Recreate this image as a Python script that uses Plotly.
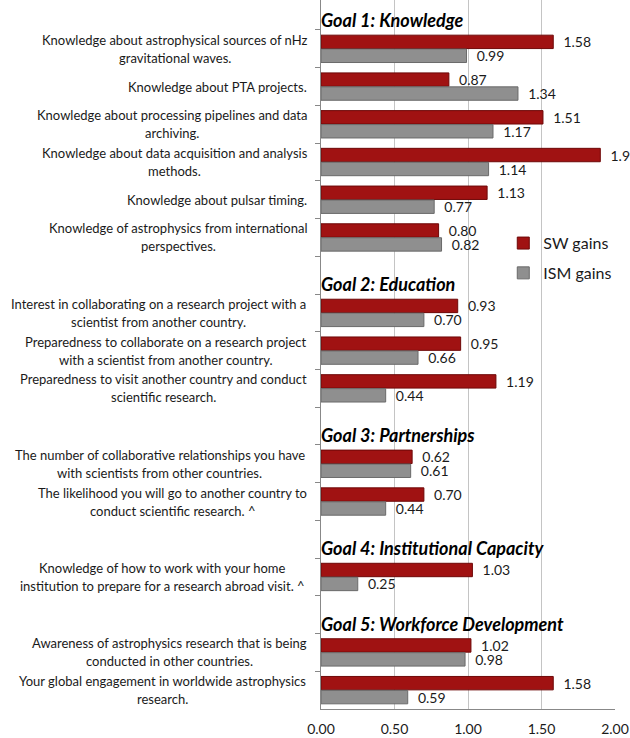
import plotly.graph_objects as go

# ---------------- data ----------------
goals = [
    "Goal 1: Knowledge",
    "Goal 2: Education",
    "Goal 3: Partnerships",
    "Goal 4: Institutional Capacity",
    "Goal 5: Workforce Development",
]
items = [
    "Knowledge about astrophysical sources of nHz\ngravitational waves.",
    "Knowledge about PTA projects.",
    "Knowledge about processing pipelines and data\narchiving.",
    "Knowledge about data acquisition and analysis\nmethods.",
    "Knowledge about pulsar timing.",
    "Knowledge of astrophysics from international\nperspectives.",
    "Interest in collaborating on a research project with a\nscientist from another country.",
    "Preparedness to collaborate on a research project\nwith a scientist from another country.",
    "Preparedness to visit another country and conduct\nscientific research.",
    "The number of collaborative relationships you have\nwith scientists from other countries.",
    "The likelihood you will go to another country to\nconduct scientific research. ^",
    "Knowledge of how to work with your home\ninstitution to prepare for a research abroad visit. ^",
    "Awareness of astrophysics research that is being\nconducted in other countries.",
    "Your global engagement in worldwide astrophysics\nresearch.",
]
item_goal = [0, 0, 0, 0, 0, 0, 1, 1, 1, 2, 2, 3, 4, 4]
sw_labels = ["1.58", "0.87", "1.51", "1.9", "1.13", "0.80", "0.93", "0.95", "1.19",
             "0.62", "0.70", "1.03", "1.02", "1.58"]
ism_labels = ["0.99", "1.34", "1.17", "1.14", "0.77", "0.82", "0.70", "0.66", "0.44",
              "0.61", "0.44", "0.25", "0.98", "0.59"]
series_names = ["SW gains", "ISM gains"]
x_ticks = [0, 0.5, 1.0, 1.5, 2.0]

# ---------------- layout helpers ----------------
# pixel centre of each (multi-line) label block, measured from the reference
label_centers = [175, None, 171.5, 174.5, None, 178, 158.5, 165.5, 163, 159.5,
                 172.5, 162, 169.5, 162.5]

W, H = 630, 738
ML, MR, MT, MB = 321, 15, 0, 29
FONT = "Lato"

# build category list (header slots + items)
cats, sw_vals, ism_vals, sw_txt, ism_txt = [], [], [], [], []
header_cats = []
item_cats = []
for g, gname in enumerate(goals):
    cats.append(gname)
    header_cats.append(gname)
    sw_vals.append(None); ism_vals.append(None)
    sw_txt.append(""); ism_txt.append("")
    for i, lab in enumerate(items):
        if item_goal[i] == g:
            c = lab.replace("\n", " ")
            cats.append(c)
            item_cats.append((i, c))
            sw_vals.append(float(sw_labels[i])); ism_vals.append(float(ism_labels[i]))
            sw_txt.append(sw_labels[i]); ism_txt.append(ism_labels[i])

fig = go.Figure()
fig.add_trace(go.Bar(
    y=cats, x=sw_vals, orientation="h", name=series_names[0],
    text=sw_txt, texttemplate="  %{text}", textposition="outside",
    constraintext="none",
    textfont=dict(family=FONT, size=14, color="#1a1a1a"),
    marker=dict(color="#A01212", line=dict(color="#6E0808", width=1)),
    legendgroup="a", cliponaxis=False,
))
fig.add_trace(go.Bar(
    y=cats, x=ism_vals, orientation="h", name=series_names[1],
    text=ism_txt, texttemplate="  %{text}", textposition="outside",
    constraintext="none",
    textfont=dict(family=FONT, size=14, color="#1a1a1a"),
    marker=dict(color="#8F8F8F", line=dict(color="#6A6A6A", width=1)),
    legendgroup="b", cliponaxis=False,
))

ann = []
for gname in header_cats:
    ann.append(dict(x=0, y=gname, xref="x", yref="y", xanchor="left", yanchor="middle",
                    text="<b><i>" + gname + "</i></b>", showarrow=False, xshift=-2, yshift=-9,
                    font=dict(family=FONT, size=18, color="#000000")))
for i, c in item_cats:
    lines = items[i].split("\n")
    if len(lines) == 1:
        ann.append(dict(x=0, y=c, xref="paper", yref="y", xanchor="right", yanchor="middle",
                        text=lines[0], showarrow=False, xshift=-12,
                        font=dict(family=FONT, size=13, color="#1a1a1a")))
    else:
        for k, ln in enumerate(lines):
            ann.append(dict(x=0, y=c, xref="paper", yref="y", xanchor="center", yanchor="middle",
                            text=ln, showarrow=False, xshift=label_centers[i] - ML,
                            yshift=9 if k == 0 else -9,
                            font=dict(family=FONT, size=13, color="#1a1a1a")))

n = len(cats)
fig.update_layout(
    width=W, height=H,
    margin=dict(l=ML, r=MR, t=MT, b=MB, pad=0, autoexpand=False),
    paper_bgcolor="white", plot_bgcolor="white",
    font=dict(family=FONT, color="#1a1a1a"),
    barmode="group", bargap=0.26, bargroupgap=0.04,
    annotations=ann,
    legend=dict(x=0.62, y=0.681, xanchor="left", yanchor="top",
                font=dict(family=FONT, size=16, color="#1a1a1a"),
                traceorder="grouped", tracegroupgap=6,
                bgcolor="rgba(0,0,0,0)", itemwidth=30),
    showlegend=True,
    xaxis=dict(range=[0, 2], tickvals=x_ticks, tickformat=".2f",
               showgrid=True, gridcolor="#C4C4C4", gridwidth=1,
               showline=True, linecolor="#888888", linewidth=1,
               ticks="", zeroline=False, automargin=False,
               ticklabelstandoff=7,
               tickfont=dict(family=FONT, size=14, color="#1a1a1a")),
    yaxis=dict(type="category", categoryorder="array", categoryarray=cats,
               range=[n - 0.5, -0.295], autorange=False, automargin=False,
               showticklabels=False, ticks="outside", ticklen=5, tickcolor="#888888",
               tickson="boundaries", showgrid=False,
               showline=True, linecolor="#888888", linewidth=1),
)

fig.write_html("out.html")
